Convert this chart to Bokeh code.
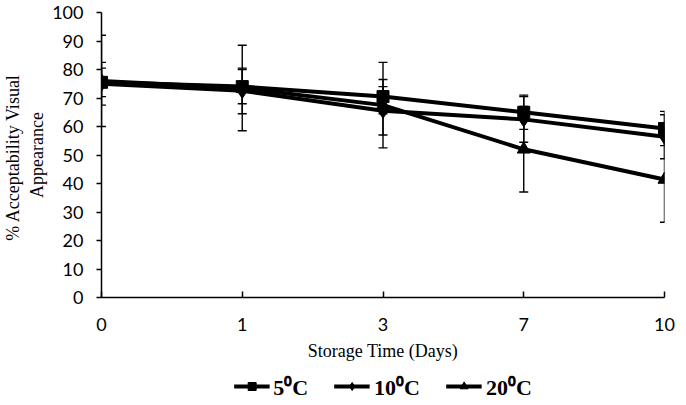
from bokeh.plotting import figure
from bokeh.layouts import column
from bokeh.models import (ColumnDataSource, Whisker, FixedTicker, Range1d,
                          Legend, LegendItem, TeeHead)
from bokeh.embed import file_html
from bokeh.resources import INLINE

days = ["0", "1", "3", "7", "10"]
temp5 = [75.5, 74.0, 70.5, 65.0, 59.3]
err5 = [5.0, 6.0, 6.0, 6.0, 6.0]
temp10 = [75.0, 72.5, 65.5, 62.5, 56.4]
err10 = [7.5, 8.0, 8.5, 8.0, 7.7]
temp20 = [76.0, 73.5, 67.5, 52.0, 41.4]
err20 = [16.0, 15.0, 15.0, 15.0, 15.0]
series_names = ["5\u2070C", "10\u2070C", "20\u2070C"]
y_ticks = list(range(0, 101, 10))

xpos = list(range(len(days)))

p = figure(width=676, height=370, output_backend="svg", toolbar_location=None,
           x_range=Range1d(0, len(days) - 1), y_range=Range1d(0, 100),
           min_border_left=95, min_border_right=12, min_border_top=12,
           min_border_bottom=73)
p.outline_line_color = None
p.xgrid.visible = False
p.ygrid.visible = False

# axes
p.xaxis.ticker = FixedTicker(ticks=xpos)
p.xaxis.major_label_overrides = {i: d for i, d in enumerate(days)}
p.xaxis.major_tick_in = 6
p.xaxis.major_tick_out = 0
p.xaxis.minor_tick_line_color = None
p.xaxis.axis_line_width = 1.5
p.xaxis.axis_line_color = "black"
p.xaxis.major_tick_line_width = 1.5
p.xaxis.major_tick_line_color = "black"
p.xaxis.major_label_text_font = "Lato"
p.xaxis.major_label_text_font_size = "18px"
p.xaxis.major_label_text_color = "black"
p.xaxis.major_label_standoff = 20
p.xaxis.axis_label = "Storage Time (Days)"
p.xaxis.axis_label_text_font = "Liberation Serif"
p.xaxis.axis_label_text_font_style = "normal"
p.xaxis.axis_label_text_font_size = "18px"
p.xaxis.axis_label_text_color = "black"
p.xaxis.axis_label_standoff = 7

p.yaxis.ticker = FixedTicker(ticks=y_ticks)
p.yaxis.major_tick_in = 0
p.yaxis.major_tick_out = 5
p.yaxis.minor_tick_line_color = None
p.yaxis.axis_line_width = 1.5
p.yaxis.axis_line_color = "black"
p.yaxis.major_tick_line_width = 1.5
p.yaxis.major_tick_line_color = "black"
p.yaxis.major_label_text_font = "Lato"
p.yaxis.major_label_text_font_size = "18px"
p.yaxis.major_label_text_color = "black"
p.yaxis.major_label_standoff = 13
p.yaxis.axis_label = "% Acceptability  Visual\nAppearance"
p.yaxis.axis_label_text_font = "Liberation Serif"
p.yaxis.axis_label_text_font_style = "normal"
p.yaxis.axis_label_text_font_size = "18px"
p.yaxis.axis_label_text_color = "black"
p.yaxis.axis_label_standoff = 2

# legend-only strip below the chart
lg = figure(width=676, height=32, output_backend="svg", toolbar_location=None,
            x_range=Range1d(1000, 1001), y_range=Range1d(1000, 1001),
            x_axis_location=None, y_axis_location=None,
            min_border_left=0, min_border_right=0, min_border_top=0,
            min_border_bottom=0)
lg.outline_line_color = None
lg.xgrid.visible = False
lg.ygrid.visible = False

markers = ["square", "diamond", "triangle"]
sizes = [12, 15, 13]
items = []
for name, vals, errs, mk, sz in zip(series_names, [temp5, temp10, temp20],
                                    [err5, err10, err20], markers, sizes):
    src = ColumnDataSource(dict(
        x=xpos, y=vals,
        lo=[v - e for v, e in zip(vals, errs)],
        hi=[v + e for v, e in zip(vals, errs)]))
    w = Whisker(base="x", lower="lo", upper="hi", source=src,
                line_color="black", line_width=1.4,
                lower_head=TeeHead(size=9, line_color="black", line_width=1.4),
                upper_head=TeeHead(size=9, line_color="black", line_width=1.4))
    p.add_layout(w)
    p.line("x", "y", source=src, line_color="black", line_width=4)
    p.scatter("x", "y", source=src, marker=mk, size=sz,
              fill_color="black", line_color="black")
    l1 = lg.line("x", "y", source=src, line_color="black", line_width=4)
    l2 = lg.scatter("x", "y", source=src, marker=mk, size=sz - 2,
                    fill_color="black", line_color="black")
    items.append(LegendItem(label=name, renderers=[l1, l2]))

legend = Legend(items=items, orientation="horizontal", location="center",
                border_line_color=None, background_fill_alpha=0,
                label_text_font="Liberation Serif", label_text_font_style="bold",
                label_text_font_size="22px", label_text_color="black",
                glyph_width=36, glyph_height=20,
                spacing=26, label_standoff=4, padding=2, margin=0)
lg.add_layout(legend)

layout = column(p, lg, spacing=0)
open("out.html", "w").write(file_html(layout, INLINE))
